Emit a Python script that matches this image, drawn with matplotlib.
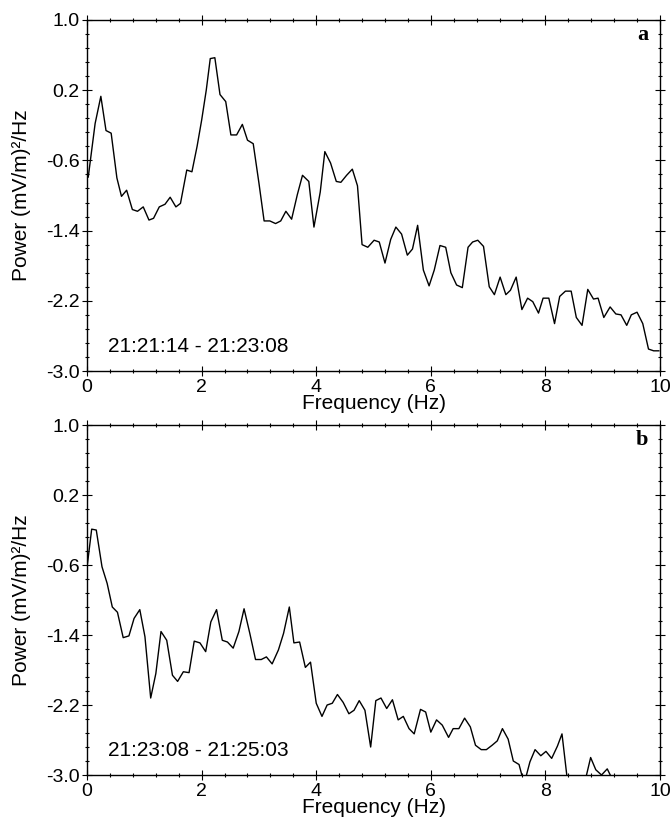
import matplotlib
matplotlib.use("Agg")
import matplotlib.pyplot as plt
import numpy as np
from matplotlib.ticker import FixedLocator, MultipleLocator, FormatStrFormatter

plt.rcParams['font.family'] = ['Liberation Sans', 'DejaVu Sans']
plt.rcParams['axes.unicode_minus'] = False

# panel a: 21:21:14 - 21:23:08
freq_a = [0.02, 0.14, 0.24, 0.33, 0.42, 0.52, 0.60, 0.69, 0.79, 0.88,
          0.98, 1.08, 1.16, 1.26, 1.36, 1.45, 1.55, 1.63, 1.74, 1.83,
          1.92, 2.00, 2.08, 2.15, 2.23, 2.32, 2.42, 2.51, 2.61, 2.71,
          2.80, 2.90, 3.00, 3.09, 3.19, 3.29, 3.38, 3.47, 3.57, 3.67,
          3.76, 3.87, 3.96, 4.07, 4.15, 4.25, 4.35, 4.43, 4.53, 4.63,
          4.72, 4.80, 4.90, 5.01, 5.10, 5.20, 5.30, 5.39, 5.49, 5.59,
          5.68, 5.77, 5.87, 5.97, 6.06, 6.16, 6.26, 6.35, 6.45, 6.55,
          6.65, 6.73, 6.82, 6.92, 7.02, 7.11, 7.21, 7.31, 7.39, 7.49,
          7.59, 7.69, 7.78, 7.88, 7.96, 8.06, 8.16, 8.25, 8.35, 8.45,
          8.54, 8.64, 8.74, 8.84, 8.92, 9.02, 9.13, 9.23, 9.32, 9.42,
          9.50, 9.60, 9.70, 9.80, 9.89, 9.98]
power_a = [-0.79, -0.18, 0.13, -0.26, -0.29, -0.80, -1.01, -0.94, -1.16, -1.18,
           -1.13, -1.28, -1.26, -1.13, -1.10, -1.02, -1.13, -1.09, -0.71, -0.73,
           -0.44, -0.14, 0.20, 0.56, 0.57, 0.15, 0.07, -0.31, -0.31, -0.19,
           -0.37, -0.41, -0.86, -1.29, -1.29, -1.32, -1.29, -1.18, -1.27, -0.99,
           -0.77, -0.84, -1.36, -0.96, -0.50, -0.63, -0.84, -0.85, -0.77, -0.70,
           -0.89, -1.56, -1.59, -1.51, -1.53, -1.77, -1.50, -1.36, -1.44, -1.68,
           -1.61, -1.34, -1.85, -2.03, -1.85, -1.57, -1.59, -1.88, -2.02, -2.05,
           -1.59, -1.53, -1.51, -1.58, -2.04, -2.13, -1.93, -2.13, -2.08, -1.93,
           -2.30, -2.17, -2.21, -2.34, -2.17, -2.17, -2.46, -2.15, -2.09, -2.09,
           -2.39, -2.48, -2.07, -2.18, -2.17, -2.39, -2.27, -2.35, -2.36, -2.48,
           -2.36, -2.33, -2.46, -2.75, -2.77, -2.77]

# panel b: 21:23:08 - 21:25:03
freq_b = [0.00, 0.08, 0.16, 0.26, 0.35, 0.44, 0.53, 0.63, 0.73, 0.82,
          0.92, 1.01, 1.11, 1.20, 1.29, 1.39, 1.49, 1.58, 1.68, 1.78,
          1.87, 1.97, 2.07, 2.16, 2.26, 2.36, 2.45, 2.55, 2.65, 2.74,
          2.84, 2.94, 3.04, 3.13, 3.23, 3.34, 3.43, 3.53, 3.61, 3.71,
          3.81, 3.90, 4.00, 4.10, 4.19, 4.28, 4.37, 4.47, 4.57, 4.66,
          4.75, 4.85, 4.95, 5.04, 5.13, 5.23, 5.33, 5.43, 5.52, 5.62,
          5.71, 5.82, 5.91, 6.00, 6.10, 6.20, 6.31, 6.39, 6.49, 6.59,
          6.69, 6.78, 6.88, 6.97, 7.07, 7.16, 7.25, 7.35, 7.44, 7.54,
          7.63, 7.73, 7.82, 7.92, 8.01, 8.11, 8.21, 8.29, 8.40, 8.50,
          8.60, 8.70, 8.79, 8.88, 8.98, 9.08, 9.17, 9.27, 9.36, 9.46,
          9.56, 9.65, 9.75, 9.85, 9.94]
power_b = [-0.62, -0.19, -0.20, -0.62, -0.81, -1.08, -1.14, -1.43, -1.41, -1.21,
           -1.11, -1.42, -2.12, -1.84, -1.36, -1.46, -1.86, -1.93, -1.82, -1.83,
           -1.47, -1.49, -1.59, -1.25, -1.11, -1.46, -1.48, -1.55, -1.36, -1.10,
           -1.38, -1.68, -1.68, -1.65, -1.73, -1.57, -1.38, -1.08, -1.49, -1.48,
           -1.77, -1.71, -2.18, -2.33, -2.20, -2.18, -2.08, -2.17, -2.30, -2.26,
           -2.15, -2.26, -2.68, -2.15, -2.12, -2.24, -2.14, -2.37, -2.33, -2.47,
           -2.53, -2.25, -2.28, -2.51, -2.37, -2.43, -2.57, -2.47, -2.47, -2.35,
           -2.45, -2.66, -2.71, -2.71, -2.66, -2.61, -2.47, -2.59, -2.84, -2.88,
           -3.10, -2.85, -2.71, -2.78, -2.73, -2.81, -2.67, -2.53, -3.15, -3.30,
           -3.30, -3.05, -2.80, -2.94, -3.00, -2.93, -3.05, -3.20, -3.25, -3.30,
           -3.20, -3.30, -3.25, -3.35, -3.30]

y_ticks = [-3.0, -2.2, -1.4, -0.6, 0.2, 1.0]

panels = [
    (freq_a, power_a, "21:21:14 - 21:23:08", "a"),
    (freq_b, power_b, "21:23:08 - 21:25:03", "b"),
]

fig = plt.figure(figsize=(6.7, 8.25), dpi=100)
boxes = [[0.130, 0.5503, 0.855, 0.4255], [0.130, 0.0606, 0.855, 0.4242]]

for box, (f, p, span, tag) in zip(boxes, panels):
    ax = fig.add_axes(box)
    ax.plot(f, p, color='black', linewidth=1.0)
    ax.set_xlim(0, 10)
    ax.set_ylim(-3.0, 1.0)
    ax.xaxis.set_major_locator(MultipleLocator(2))
    ax.xaxis.set_minor_locator(MultipleLocator(0.4))
    ax.yaxis.set_major_locator(FixedLocator(y_ticks))
    ax.yaxis.set_minor_locator(FixedLocator(np.linspace(-3.0, 1.0, 26)))
    ax.yaxis.set_major_formatter(FormatStrFormatter('%.1f'))
    ax.tick_params(which='both', direction='inout', top=True, right=True,
                   labelsize=14, width=0.8, pad=2)
    ax.tick_params(which='major', length=7)
    ax.tick_params(which='minor', length=3)
    for s in ax.spines.values():
        s.set_linewidth(1.0)
    ax.set_xlabel("Frequency (Hz)", fontsize=15, labelpad=-1)
    ax.set_ylabel("Power (mV/m)²/Hz", fontsize=15, va='center')
    ax.yaxis.set_label_coords(-0.115, 0.5)
    ax.text(0.037, 0.07, span, transform=ax.transAxes, fontsize=15,
            ha='left', va='center')
    ax.text(0.979, 0.957, tag, transform=ax.transAxes, fontsize=16,
            fontweight='bold', family=['Liberation Serif', 'DejaVu Serif'],
            ha='right', va='center')

fig.savefig("out.png", dpi=100)
